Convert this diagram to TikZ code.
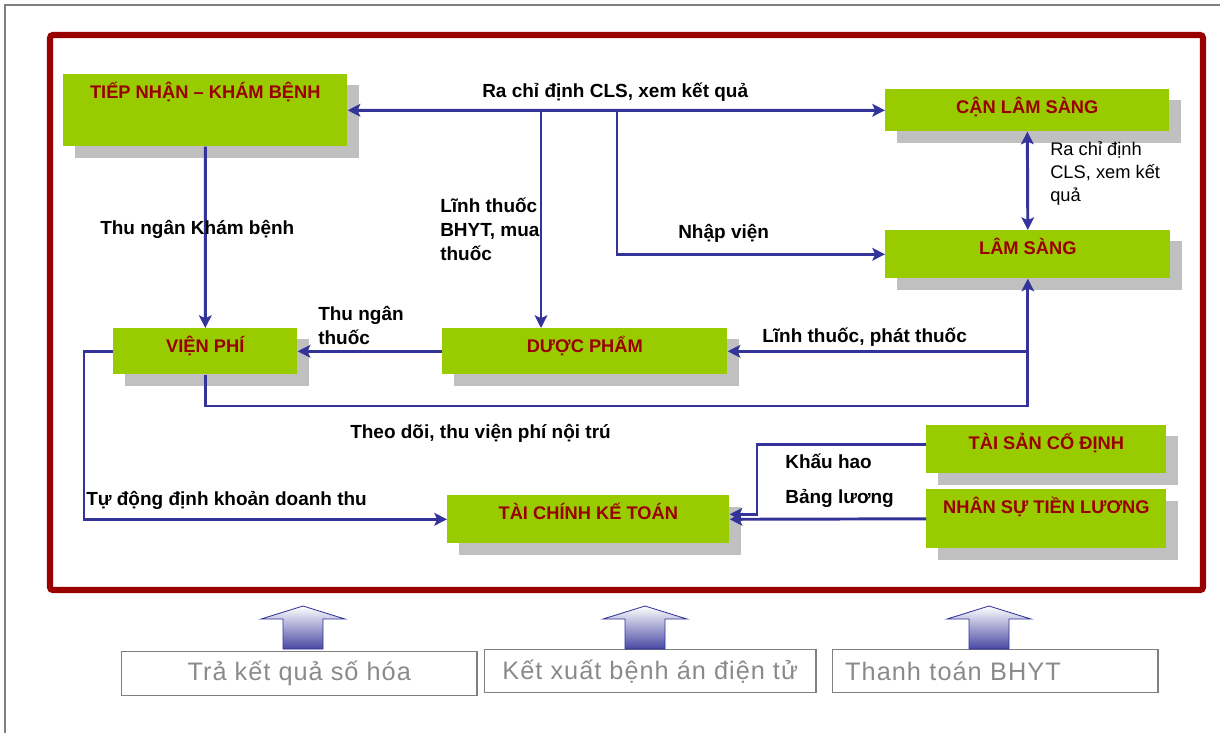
\documentclass[tikz,border=0pt]{standalone}
\usepackage{fontspec}
\setmainfont{Liberation Sans}
\newfontfamily\outfont[LetterSpace=4]{Liberation Sans}
\usepackage{xcolor}
\usepackage{tikz}
\usetikzlibrary{arrows.meta,shadows,calc}
\definecolor{BoxGreen}{HTML}{99CC00}
\definecolor{TitleRed}{HTML}{990000}
\definecolor{FrameRed}{HTML}{990000}
\definecolor{FlowBlue}{HTML}{333399}
\definecolor{ShadowGray}{HTML}{C0C0C0}
\definecolor{FrameGray}{HTML}{808080}
\definecolor{OutGray}{HTML}{8A8A8A}

\begin{document}
\begin{tikzpicture}[x=0.025cm,y=-0.025cm,
  unit/.style={anchor=north west,fill=BoxGreen,inner sep=0pt,text height=0.6cm,
    text=TitleRed,font=\fontsize{13}{15}\selectfont\bfseries,
    general shadow={fill=ShadowGray,shadow xshift=0.3cm,shadow yshift=-0.28cm}},
  flow/.style={draw=FlowBlue,line width=2.1pt,-{Stealth[length=9pt,width=9pt,inset=2pt]}},
  twoway/.style={flow,{Stealth[length=9pt,width=9pt,inset=2pt]}-{Stealth[length=9pt,width=9pt,inset=2pt]}},
  note/.style={anchor=base west,inner sep=0pt,align=left,
    font=\fontsize{13.5}{17}\selectfont\bfseries},
  outbox/.style={anchor=north west,draw=FrameGray,line width=1pt,inner sep=0pt,
    text=OutGray,font=\outfont\fontsize{18}{21}\selectfont}]
\useasboundingbox (0,0) rectangle (1220,733);
\draw[FrameGray,line width=1.2pt] (5,733) -- (5,5) -- (1220,5);
\draw[FrameRed,line width=4.3pt,rounded corners=2pt] (50,35) rectangle (1203,590);

% departments
\node[unit,minimum width=7.1cm,text depth=1.2cm] (tiepnhan) at (63,74) {TIẾP NHẬN – KHÁM BỆNH};
\node[unit,minimum width=7.1cm,text depth=0.45cm] (canls) at (885,89) {CẬN LÂM SÀNG};
\node[unit,minimum width=7.125cm,text depth=0.6cm] (lamsang) at (885,230) {LÂM SÀNG};
\node[unit,minimum width=4.6cm,text depth=0.55cm] (vienphi) at (113,328) {VIỆN PHÍ};
\node[unit,minimum width=7.125cm,text depth=0.55cm] (duocpham) at (442,328) {DƯỢC PHẨM};
\node[unit,minimum width=7.05cm,text depth=0.6cm] (taichinh) at (447,495) {TÀI CHÍNH KẾ TOÁN};
\node[unit,minimum width=6cm,text depth=0.6cm] (taisan) at (926,425) {TÀI SẢN CỐ ĐỊNH};
\node[unit,minimum width=6cm,text depth=0.875cm] (nhansu) at (926,489) {NHÂN SỰ TIỀN LƯƠNG};

% junctions
\coordinate (jthuoc) at (541,110);
\coordinate (jnhap) at (617,110);
\coordinate (jphat) at (lamsang.south |- duocpham.east);
\coordinate (jnoitru) at (lamsang.south |- 0,406);

% flows
\draw[twoway] (tiepnhan.east) -- (canls.west);
\draw[flow] (jthuoc) -- (jthuoc |- duocpham.north);
\draw[flow] (jnhap) |- (lamsang.west);
\draw[flow] (tiepnhan.south) -- (vienphi.north);
\draw[twoway] (canls.south) -- (lamsang.north);
\draw[flow] (duocpham.west) -- (vienphi.east);
\draw[flow] (jphat) -- (duocpham.east);
\draw[flow] (vienphi.south) |- (jnoitru) -- (lamsang.south);
\draw[flow] (vienphi.west) -- ++(-29,0) |- (taichinh.west);
\draw[flow] ($(taisan.west)+(0,-5)$) -- ++(-169,0) |- ($(taichinh.east)+(0,-5)$);
\draw[flow] (nhansu.west) -- (taichinh.east);

% labels
\node[note] (lblcls) at (482,97) {Ra chỉ định CLS, xem kết quả};
\node[note,anchor=north west] (lblbhyt) at (440,198) {Lĩnh thuốc\\BHYT, mua\\thuốc};
\node[note] (lblnhap) at (678,238) {Nhập viện};
\node[note] (lblkham) at (100,234) {Thu ngân Khám bệnh};
\node[note,anchor=north west,font=\fontsize{13}{16.5}\selectfont] (lblcls2) at (1050,141) {Ra chỉ định\\CLS, xem kết\\quả};
\node[note,anchor=north west] (lblngan) at (318,306) {Thu ngân\\thuốc};
\node[note] (lblphat) at (762,342) {Lĩnh thuốc, phát thuốc};
\node[note] (lbltheo) at (350,438) {Theo dõi, thu viện phí nội trú};
\node[note] (lbltudong) at (86,505) {Tự động định khoản doanh thu};
\node[note] (lblkhau) at (785,468) {Khấu hao};
\node[note] (lblbang) at (785,503) {Bảng lương};

% outputs
\node[outbox,minimum width=8.875cm,minimum height=1.1cm] (ketqua) at (121,651) {Trả kết quả số hóa};
\node[outbox,minimum width=8.275cm,minimum height=1.075cm] (benhan) at (484,649) {Kết xuất bệnh án điện tử};
\node[outbox,minimum width=8.125cm,minimum height=1.075cm,text width=7.5cm,align=left] (bhyt) at (832,649) {Thanh toán BHYT};
\foreach \cx in {303,645,989}
  \draw[FlowBlue,line width=0.6pt,top color=white,bottom color=FlowBlue!90]
    (\cx-20,649) -- (\cx-20,619) -- (\cx-42,619) -- (\cx,606)
    -- (\cx+42,619) -- (\cx+20,619) -- (\cx+20,649) -- cycle;
\end{tikzpicture}
\end{document}
